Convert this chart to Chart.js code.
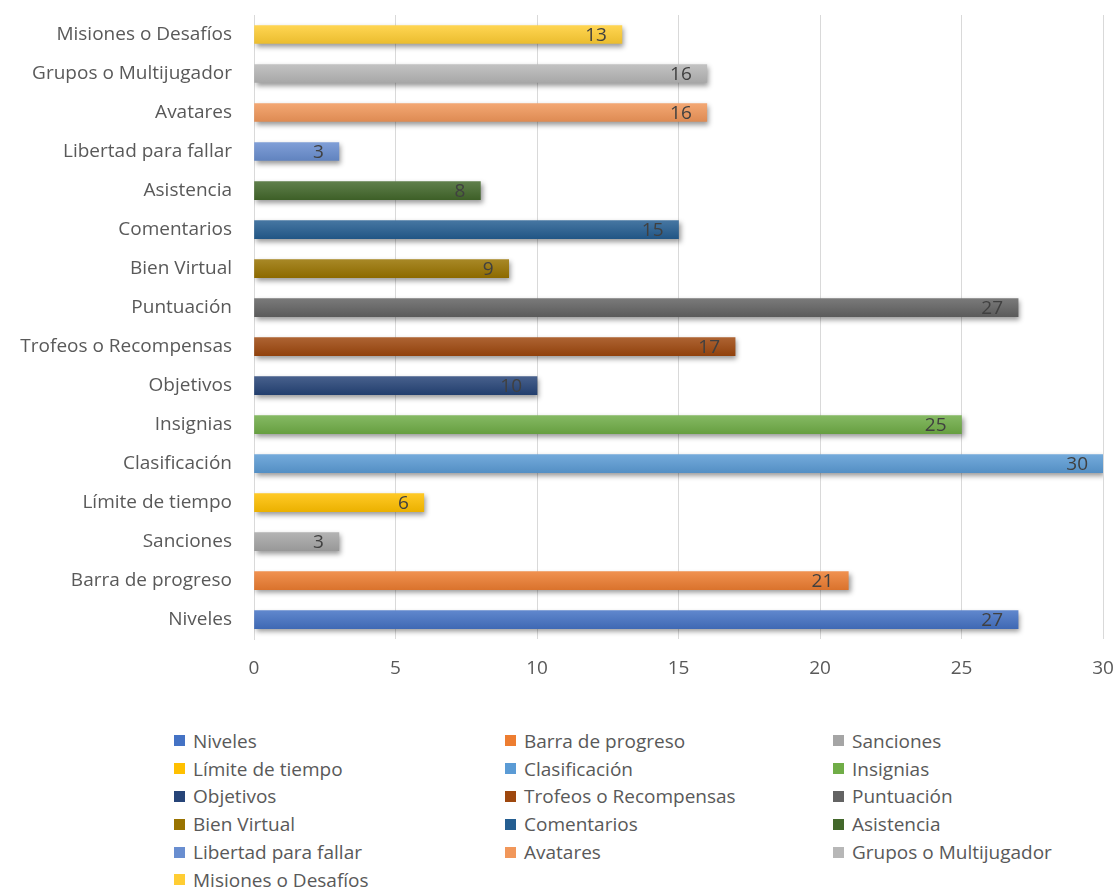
<!DOCTYPE html>
<html>
<head>
<meta charset="utf-8">
<script src="https://cdn.jsdelivr.net/npm/chart.js@4/dist/chart.umd.min.js"></script>
<style>
  body { margin: 0; background: #fff; font-family: "Open Sans", sans-serif; }
  #wrap { position: relative; width: 1118px; height: 889px; }
  #box { position: absolute; left: 0; top: 0; width: 1118px; height: 700px; }
  #legend { position: absolute; left: 174px; top: 727px; width: 940px; }
  .row { height: 27.8px; position: relative; }
  .item { position: absolute; top: 0; display: flex; align-items: center; height: 27.8px;
          font-size: 19px; color: #595959; white-space: nowrap; }
  .sw { width: 11px; height: 11px; margin-right: 8px; }
</style>
</head>
<body>
<div id="wrap">
  <div id="box"><canvas id="myChart"></canvas></div>
  <div id="legend"></div>
</div>
<script>
// categories, bottom (first) to top (last)
const categories = ["Niveles", "Barra de progreso", "Sanciones", "Límite de tiempo", "Clasificación",
  "Insignias", "Objetivos", "Trofeos o Recompensas", "Puntuación", "Bien Virtual",
  "Comentarios", "Asistencia", "Libertad para fallar", "Avatares", "Grupos o Multijugador",
  "Misiones o Desafíos"];
const values = [27, 21, 3, 6, 30, 25, 10, 17, 27, 9, 15, 8, 3, 16, 16, 13];
const xTicks = [0, 5, 10, 15, 20, 25, 30];
const barColors = ["#4472C4", "#ED7D31", "#A5A5A5", "#FFC000", "#5B9BD5", "#70AD47", "#264478",
  "#9E480E", "#636363", "#997300", "#255E91", "#43682B", "#698ED0", "#F1975A", "#B7B7B7", "#FFCD33"];

const textGray = "#595959";

function shade(hex, amt) {
    const n = parseInt(hex.slice(1), 16);
    let r = (n >> 16) & 255, g = (n >> 8) & 255, b = n & 255;
    const f = c => Math.max(0, Math.min(255, Math.round(amt > 0 ? c + (255 - c) * amt : c * (1 + amt))));
    return "rgb(" + f(r) + "," + f(g) + "," + f(b) + ")";
}

// shadow under bars
const shadowPlugin = {
    id: "shadow",
    beforeDatasetsDraw(chart) {
        const ctx = chart.ctx;
        ctx.save();
        ctx.shadowColor = "rgba(0,0,0,0.4)";
        ctx.shadowBlur = 5;
        ctx.shadowOffsetX = 2;
        ctx.shadowOffsetY = 3;
    },
    afterDatasetsDraw(chart) {
        chart.ctx.restore();
    }
};

// value labels at the inside end of each bar
const valueLabels = {
    id: "valueLabels",
    afterDraw(chart) {
        const ctx = chart.ctx;
        const meta = chart.getDatasetMeta(0);
        ctx.save();
        ctx.font = "19px 'Open Sans'";
        ctx.fillStyle = "#404040";
        ctx.textAlign = "right";
        ctx.textBaseline = "middle";
        meta.data.forEach((bar, i) => {
            ctx.fillText(String(values[i]), bar.x - 15, bar.y + 1);
        });
        ctx.restore();
    }
};

new Chart(document.getElementById("myChart"), {
    type: "bar",
    data: {
        labels: categories,
        datasets: [{
            data: values,
            barThickness: 18,
            backgroundColor: function (c) {
                const base = barColors[c.dataIndex];
                const chart = c.chart;
                if (!chart.chartArea) return base;
                const y = chart.scales.y.getPixelForValue(c.dataIndex);
                const g = chart.ctx.createLinearGradient(0, y - 9, 0, y + 9);
                g.addColorStop(0, shade(base, 0.15));
                g.addColorStop(1, shade(base, -0.08));
                return g;
            },
            borderWidth: 0
        }]
    },
    options: {
        indexAxis: "y",
        responsive: true,
        maintainAspectRatio: false,
        animation: false,
        layout: { padding: { top: 15, right: 15, bottom: 2, left: 0 } },
        scales: {
            x: {
                min: 0,
                max: 30,
                afterBuildTicks: axis => { axis.ticks = xTicks.map(v => ({ value: v })); },
                afterFit: scale => { scale.paddingLeft = 0; scale.paddingRight = 0; },
                grid: { color: "#d9d9d9", drawTicks: false },
                border: { display: false },
                ticks: { color: textGray, font: { family: "'Open Sans'", size: 19 }, padding: 18 }
            },
            y: {
                reverse: true,
                afterFit: scale => { scale.width = 254; scale.paddingTop = 0; scale.paddingBottom = 0; },
                grid: { display: false, drawTicks: false },
                border: { color: "#d9d9d9", width: 1 },
                ticks: { color: textGray, font: { family: "'Open Sans'", size: 19 }, padding: 22 }
            }
        },
        plugins: {
            legend: { display: false },
            tooltip: { enabled: false }
        }
    },
    plugins: [shadowPlugin, valueLabels]
});

// legend, 3 columns, in category order
const legendEl = document.getElementById("legend");
const colX = [0, 331, 659];
for (let r = 0; r < Math.ceil(categories.length / 3); r++) {
    const row = document.createElement("div");
    row.className = "row";
    for (let c = 0; c < 3; c++) {
        const i = r * 3 + c;
        if (i >= categories.length) break;
        const item = document.createElement("div");
        item.className = "item";
        item.style.left = colX[c] + "px";
        item.innerHTML = '<span class="sw" style="background:' + barColors[i] + '"></span>' + categories[i];
        row.appendChild(item);
    }
    legendEl.appendChild(row);
}
</script>
</body>
</html>
